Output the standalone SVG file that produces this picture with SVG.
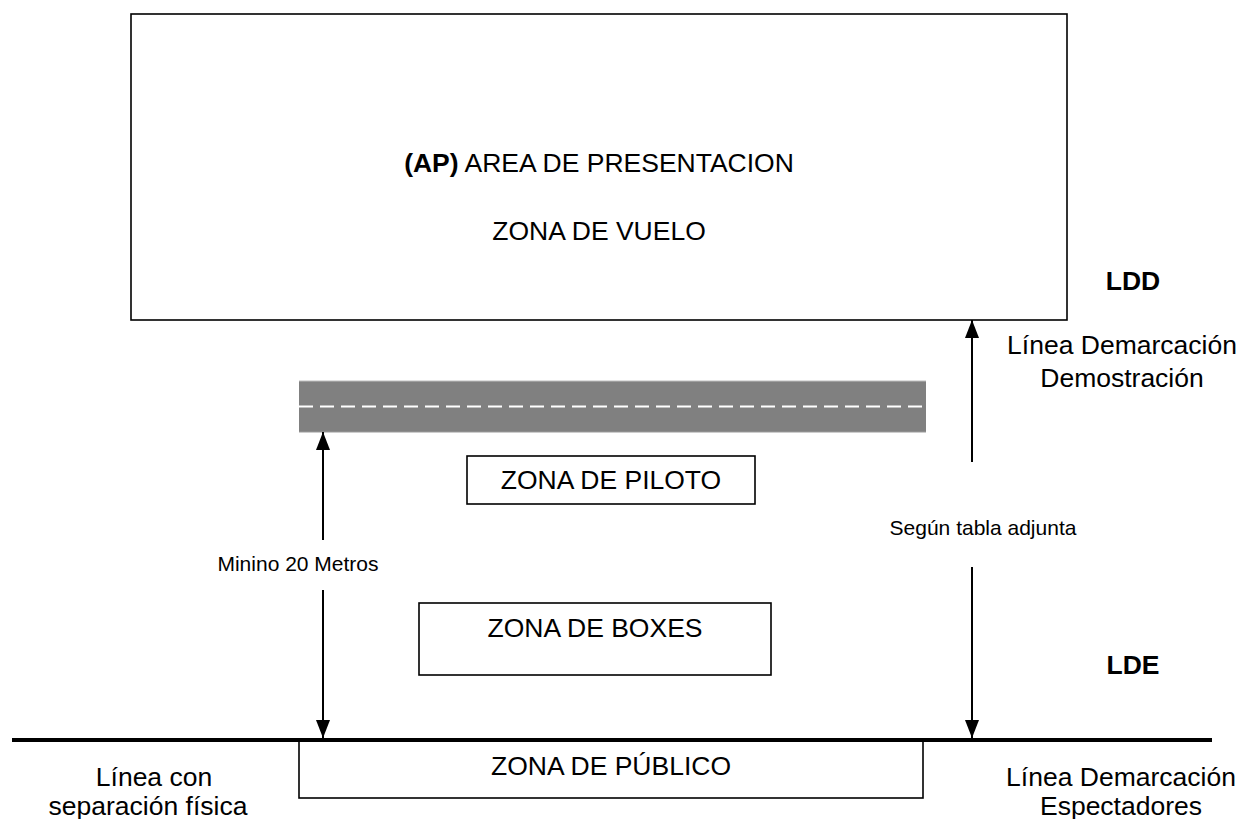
<svg xmlns="http://www.w3.org/2000/svg" width="1248" height="819" viewBox="0 0 1248 819">
  <style>
    text { font-family: "Liberation Sans", Arial, sans-serif; fill: #000; }
    .big { font-size: 26.5px; }
    .small { font-size: 21px; }
    .bold { font-weight: bold; }
    .box { fill: #fff; stroke: #000; stroke-width: 1.6; }
    .conn { stroke: #000; stroke-width: 2; fill: none; }
  </style>
  <defs>
    <marker id="arrow" markerUnits="userSpaceOnUse" markerWidth="18" markerHeight="14" refX="18" refY="7" orient="auto">
      <path d="M0,0 L18,7 L0,14 z" fill="#000"/>
    </marker>
  </defs>
  <rect width="1248" height="819" fill="#fff"/>

  <g id="area-presentacion">
    <rect class="box" x="131" y="14" width="936" height="306" stroke-width="2"/>
    <text class="big" x="599" y="172" text-anchor="middle"><tspan class="bold">(AP)</tspan> AREA DE PRESENTACION</text>
    <text class="big" x="599" y="240" text-anchor="middle">ZONA DE VUELO</text>
  </g>

  <g id="ldd">
    <text class="big bold" x="1133" y="290" text-anchor="middle">LDD</text>
    <text class="big" x="1122" y="354" text-anchor="middle">Línea Demarcación</text>
    <text class="big" x="1122" y="387" text-anchor="middle">Demostración</text>
  </g>

  <g id="pista">
    <rect x="299" y="381" width="627" height="51" fill="#808080"/>
    <line x1="299" y1="381" x2="926" y2="381" stroke="#bdbdbd" stroke-width="1"/>
    <line x1="299" y1="432" x2="926" y2="432" stroke="#9a9a9a" stroke-width="1"/>
    <line x1="299" y1="406.5" x2="926" y2="406.5" stroke="#fff" stroke-width="2" stroke-dasharray="14 7"/>
  </g>

  <g id="zona-piloto">
    <rect class="box" x="467" y="456" width="288" height="48"/>
    <text class="big" x="611" y="489" text-anchor="middle">ZONA DE PILOTO</text>
  </g>

  <g id="zona-boxes">
    <rect class="box" x="419" y="603" width="352" height="72"/>
    <text class="big" x="595" y="637" text-anchor="middle">ZONA DE BOXES</text>
  </g>

  <g id="lde">
    <text class="big bold" x="1133" y="674" text-anchor="middle">LDE</text>
  </g>

  <g id="zona-publico">
    <rect class="box" x="299" y="740" width="624" height="58"/>
    <text class="big" x="611" y="775" text-anchor="middle">ZONA DE PÚBLICO</text>
  </g>

  <g id="linea-separacion">
    <text class="big" x="154" y="786" text-anchor="middle">Línea con</text>
    <text class="big" x="148" y="815" text-anchor="middle">separación física</text>
  </g>

  <g id="lde-label">
    <text class="big" x="1121" y="786" text-anchor="middle">Línea Demarcación</text>
    <text class="big" x="1121" y="815" text-anchor="middle">Espectadores</text>
  </g>

  <g id="connectors">
    <line x1="12" y1="740" x2="1212" y2="740" stroke="#000" stroke-width="4"/>
    <line class="conn" x1="323" y1="540" x2="323" y2="432" marker-end="url(#arrow)"/>
    <line class="conn" x1="323" y1="590" x2="323" y2="738" marker-end="url(#arrow)"/>
    <line class="conn" x1="972" y1="462" x2="972" y2="320" marker-end="url(#arrow)"/>
    <line class="conn" x1="972" y1="567" x2="972" y2="738" marker-end="url(#arrow)"/>
    <text class="small" x="298" y="571" text-anchor="middle">Minino 20 Metros</text>
    <text class="small" x="983" y="535" text-anchor="middle">Según tabla adjunta</text>
  </g>
</svg>
